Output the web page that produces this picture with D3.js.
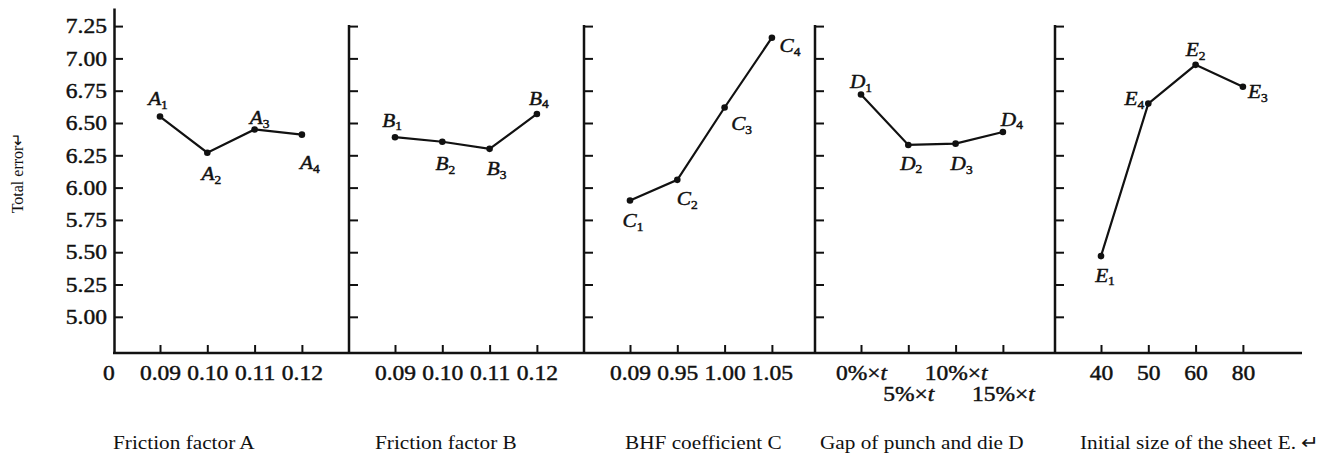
<!DOCTYPE html>
<html>
<head>
<meta charset="utf-8">
<script src="https://cdn.jsdelivr.net/npm/d3@7"></script>
<style>
  body { margin: 0; background: #fff; }
  text { font-family: "Liberation Serif", "Times New Roman", serif; fill: #111; }
</style>
</head>
<body>
<div id="chart-area"></div>
<script>

//**************** Data *****************//

const yTicks = [5.00, 5.25, 5.50, 5.75, 6.00, 6.25, 6.50, 6.75, 7.00, 7.25];

const titles = ['Friction factor A', 'Friction factor B', 'BHF coefficient C',
	'Gap of punch and die D', 'Initial size of the sheet E. \u21b5'];

const levelsA = ['0.09', '0.10', '0.11', '0.12'];
const levelsB = ['0.09', '0.10', '0.11', '0.12'];
const levelsC = ['0.09', '0.95', '1.00', '1.05'];
const levelsD = ['0%', '5%', '10%', '15%'];   // "× t" added when drawn
const levelsE = ['40', '50', '60', '80'];

const valuesA = [6.55, 6.27, 6.45, 6.41];
const valuesB = [6.39, 6.355, 6.30, 6.57];
const valuesC = [5.90, 6.06, 6.62, 7.16];
const valuesD = [6.72, 6.33, 6.34, 6.43];
const valuesE = [5.47, 6.65, 6.95, 6.78];

const namesA = ['A1', 'A2', 'A3', 'A4'];
const namesB = ['B1', 'B2', 'B3', 'B4'];
const namesC = ['C1', 'C2', 'C3', 'C4'];
const namesD = ['D1', 'D2', 'D3', 'D4'];
const namesE = ['E1', 'E4', 'E2', 'E3'];


//**************** Layout *****************//

const W = 1326, H = 455;
const SX = 1.12;              // the scanned text is a bit wide
const panelLeft = [114, 349, 584, 815, 1055];
const axisEnd = 1302;
const firstTick = 46, step = 47.3;

// label offsets from their point (center of label)
const labelOffsets = [
	[[-2, -18], [4, 21], [5, -12], [8, 28]],
	[[-3, -17], [3, 22], [7, 20], [2, -16]],
	[[3, 20], [10, 19], [17, 16], [18, 8]],
	[[0, -13], [3, 18], [6, 20], [9, -13]],
	[[4, 19], [-14, -5], [0, -15], [15, 5]]
];

const panels = [
	{ levels: levelsA, values: valuesA, names: namesA },
	{ levels: levelsB, values: valuesB, names: namesB },
	{ levels: levelsC, values: valuesC, names: namesC },
	{ levels: levelsD, values: valuesD, names: namesD },
	{ levels: levelsE, values: valuesE, names: namesE }
];


//**************** Canvas *****************//

let svg = d3.select('#chart-area').append('svg')
	.attr('width', W)
	.attr('height', H);

svg.append('rect').attr('width', W).attr('height', H).attr('fill', '#fff');

function stretch(sel) {
	sel.each(function() {
		let t = d3.select(this);
		let x = +t.attr('x') || 0;
		t.attr('x', x / SX).attr('transform', 'scale(' + SX + ',1)');
	});
	return sel;
}

// tick numbers in the scan are heavier than the titles
function heavy(sel) {
	return sel.attr('stroke', '#111').attr('stroke-width', 0.45);
}


//**************** Scales & Axes *****************//

let y = d3.scaleLinear()
	.domain([4.72, 7.39])
	.range([353, 8]);

let baseY = y(4.72);

// main y axis
let yAxisCall = d3.axisLeft(y)
	.tickValues(yTicks)
	.tickSize(-9)
	.tickSizeOuter(0)
	.tickPadding(7)
	.tickFormat(d3.format('.2f'));

let yAxisGroup = svg.append('g')
	.attr('class', 'y-axis')
	.attr('transform', 'translate(' + panelLeft[0] + ',0)')
	.call(yAxisCall);

yAxisGroup.select('.domain').attr('stroke', '#111').attr('stroke-width', 2.5);
yAxisGroup.selectAll('.tick line').attr('stroke', '#111').attr('stroke-width', 2);
yAxisGroup.selectAll('.tick text')
	.attr('font-size', '21px')
	.attr('fill', '#111')
	.attr('font-family', '"Liberation Serif", serif')
	.call(heavy)
	.call(stretch);

// separators between panels
for (let i = 1; i < panelLeft.length; i++) {
	let sep = svg.append('g')
		.attr('class', 'sep')
		.attr('transform', 'translate(' + panelLeft[i] + ',0)')
		.call(d3.axisLeft(y).tickValues(yTicks).tickSize(-9).tickFormat(''));
	sep.select('.domain').remove();
	sep.selectAll('.tick line').attr('stroke', '#111').attr('stroke-width', 2);
	sep.append('line')
		.attr('x1', 0).attr('x2', 0)
		.attr('y1', y(d3.max(yTicks)) - 1)
		.attr('y2', baseY)
		.attr('stroke', '#111')
		.attr('stroke-width', 2.5);
}

// x baseline
svg.append('line')
	.attr('x1', panelLeft[0] - 1).attr('x2', axisEnd)
	.attr('y1', baseY).attr('y2', baseY)
	.attr('stroke', '#111')
	.attr('stroke-width', 2.5);

// origin label
svg.append('text')
	.attr('x', 109).attr('y', baseY + 27)
	.attr('text-anchor', 'middle')
	.attr('font-size', '21px')
	.text('0')
	.call(heavy)
	.call(stretch);


//**************** Panels *****************//

panels.forEach((p, i) => {

	let x = d3.scalePoint()
		.domain(p.levels)
		.range([panelLeft[i] + firstTick, panelLeft[i] + firstTick + 3 * step]);

	let xAxisGroup = svg.append('g')
		.attr('class', 'x-axis')
		.attr('transform', 'translate(0,' + baseY + ')')
		.call(d3.axisBottom(x).tickSize(-8).tickSizeOuter(0));

	xAxisGroup.select('.domain').remove();
	xAxisGroup.selectAll('.tick line').attr('stroke', '#111').attr('stroke-width', 2);

	let labels = xAxisGroup.selectAll('.tick text')
		.attr('dy', null)
		.attr('y', (d, j) => (i === 3 && j % 2 === 1) ? 48 : 27)
		.attr('font-size', '21px')
		.attr('fill', '#111')
		.attr('font-family', '"Liberation Serif", serif');

	if (i === 3) {
		labels.text(null).each(function(d) {
			let t = d3.select(this);
			t.append('tspan').text(d + '\u00d7');
			t.append('tspan').attr('font-style', 'italic').text('t');
		});
	}
	labels.call(heavy).call(stretch);

	// line + points
	let pts = p.levels.map((lv, j) => ({ lv: lv, v: p.values[j], name: p.names[j], off: labelOffsets[i][j] }));

	let line = d3.line()
		.x(d => x(d.lv))
		.y(d => y(d.v));

	svg.append('path')
		.datum(pts)
		.attr('d', line)
		.attr('fill', 'none')
		.attr('stroke', '#111')
		.attr('stroke-width', 2.2);

	svg.selectAll(null)
		.data(pts)
		.enter().append('circle')
		.attr('cx', d => x(d.lv))
		.attr('cy', d => y(d.v))
		.attr('r', 3.3)
		.attr('fill', '#111');

	svg.selectAll(null)
		.data(pts)
		.enter().append('text')
		.attr('x', d => x(d.lv) + d.off[0])
		.attr('y', d => y(d.v) + d.off[1])
		.attr('dy', '0.35em')
		.attr('text-anchor', 'middle')
		.attr('font-size', '19px')
		.attr('font-style', 'italic')
		.each(function(d) {
			let t = d3.select(this);
			t.append('tspan').text(d.name[0]);
			t.append('tspan').attr('font-size', '12px').attr('font-style', 'normal')
				.attr('dy', '0.3em').text(d.name.slice(1));
		})
		.call(heavy)
		.call(stretch);

	// panel title
	svg.append('text')
		.attr('x', [113, 375, 625, 820, 1080][i])
		.attr('y', 449)
		.attr('font-size', '19px')
		.text(titles[i])
		.call(stretch);
});


//**************** Labels *****************//

svg.append('text')
	.attr('transform', 'translate(23,173) rotate(-90)')
	.attr('text-anchor', 'middle')
	.attr('font-size', '16px')
	.text('Total error\u21b5');

</script>
</body>
</html>
